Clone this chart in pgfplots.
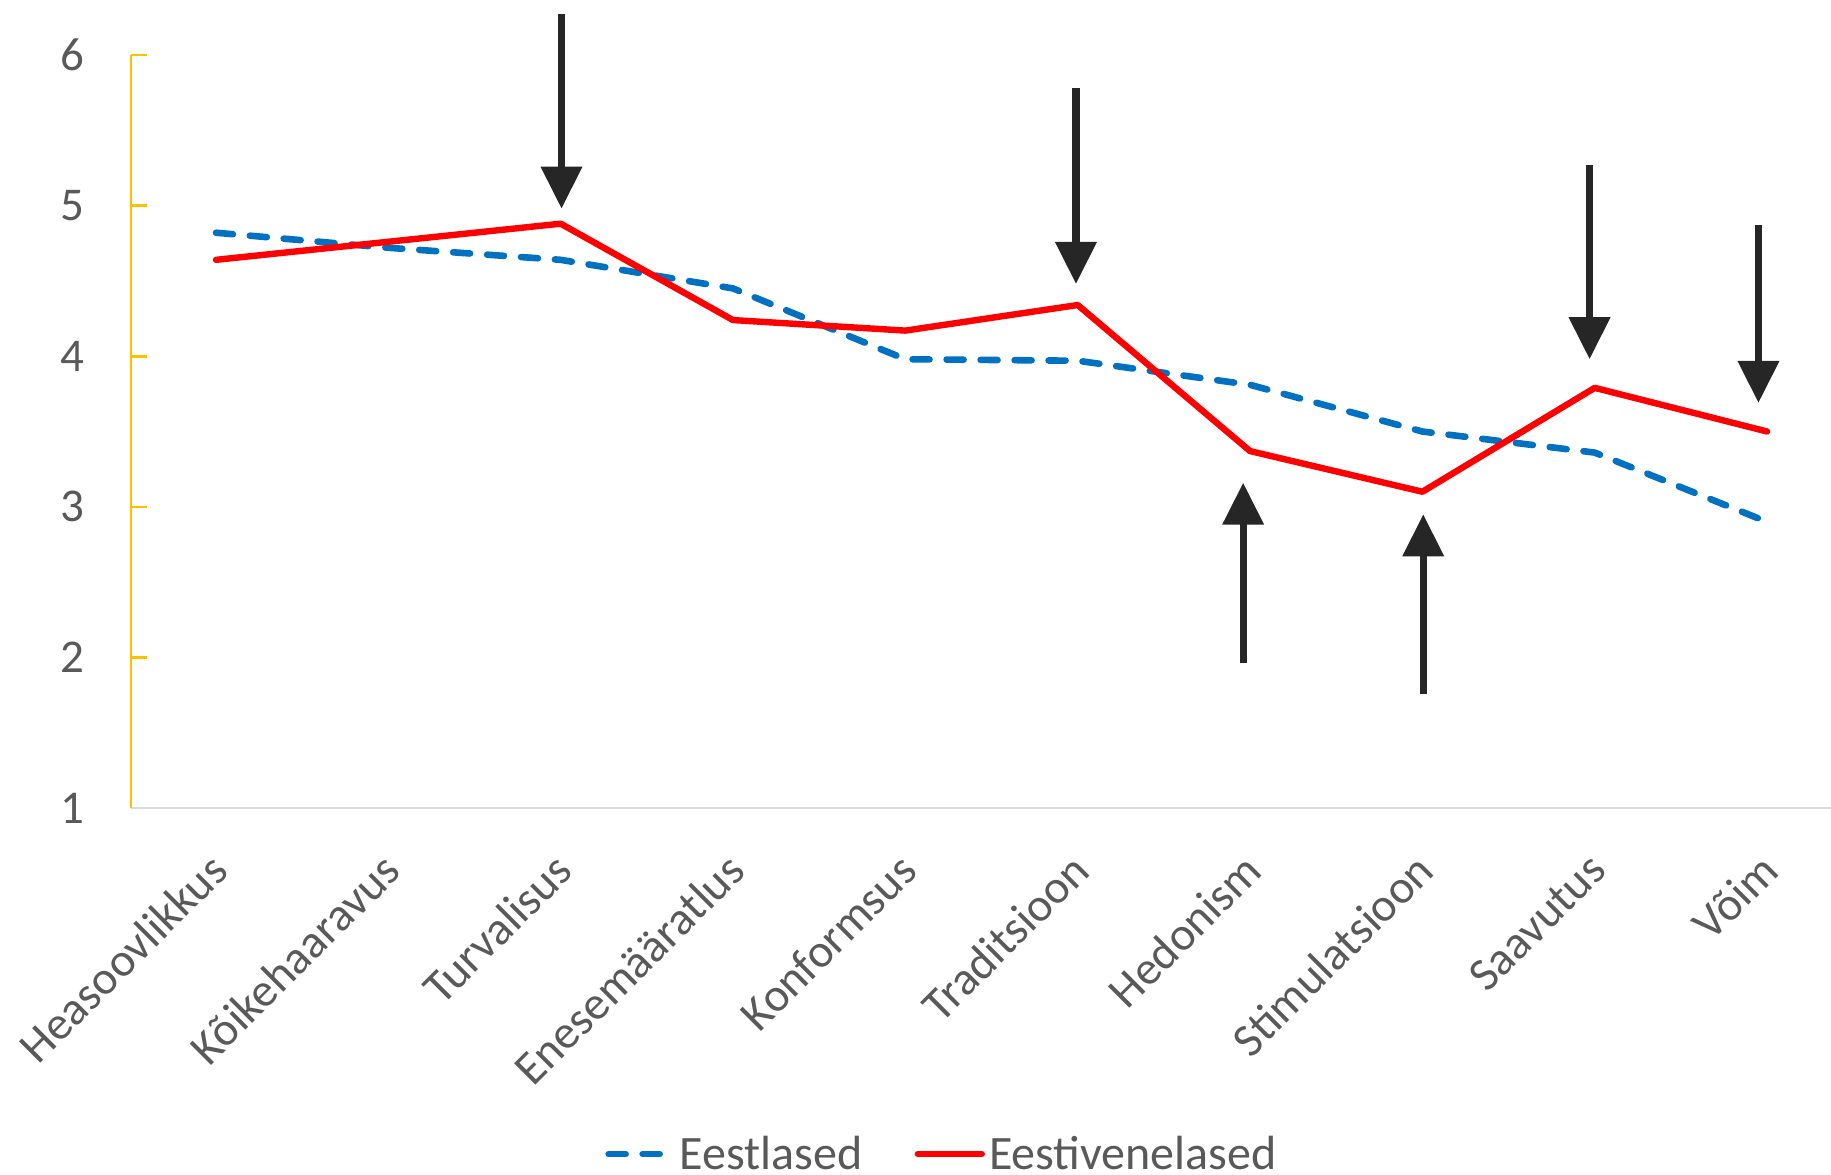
\documentclass[border=0pt]{standalone}
\usepackage{pgfplots}
\pgfplotsset{compat=1.18}
\usepackage{fontspec}
\setmainfont{Carlito}
\usetikzlibrary{arrows.meta}
\definecolor{ablue}{HTML}{0070C0}
\definecolor{ared}{HTML}{FF0000}
\definecolor{agold}{HTML}{FFC000}
\definecolor{agrid}{HTML}{D9D9D9}
\definecolor{atext}{HTML}{595959}
\definecolor{aarrow}{HTML}{262626}
\begin{document}
\begin{tikzpicture}
\begin{axis}[
  at={(0pt,0pt)}, anchor=south west,
  width=850pt, height=376.5pt, scale only axis,
  xmin=-0.493, xmax=9.371, ymin=1, ymax=6,
  axis lines*=left,
  x axis line style={draw=agrid, line width=1pt},
  y axis line style={draw=agold, line width=1.3pt},
  xtick={0,...,9},
  xticklabels={Heasoovlikkus, Kõikehaaravus, Turvalisus, Enesemääratlus, Konformsus, Traditsioon, Hedonism, Stimulatsioon, Saavutus, Võim},
  ytick={1,...,6},
  tick align=inside,
  major tick length=8pt,
  xtick style={draw=none},
  ytick style={draw=agold, line width=1.3pt},
  tick label style={font=\fontsize{23.5}{28}\selectfont, text=atext},
  /pgf/number format/assume math mode=true,
  yticklabel style={xshift=-23pt, anchor=east, inner sep=0pt},
  xticklabel style={xshift=1.5pt, yshift=-27pt, rotate=45, anchor=east, inner sep=0pt},
  clip=false,
  legend style={at={(0.4776,-0.4595)}, anchor=center, draw=none, fill=none,
    legend columns=2, font=\fontsize{24}{28}\selectfont, text=atext,
    /tikz/every even column/.append style={column sep=24pt}},
  legend image code/.code={\draw[#1] (0pt,0pt) -- (32pt,0pt);},
]
\addplot[ablue, line width=3.3pt, line cap=round, dash pattern=on 8.5pt off 8.5pt] coordinates {
 (0,4.82) (1,4.72) (2,4.64) (3,4.45) (4,3.98) (5,3.97) (6,3.81) (7,3.50) (8,3.36) (9,2.90)};
\addlegendentry{Eestlased}
\addplot[ared, line width=3.2pt, line cap=round, line join=round] coordinates {
 (0,4.64) (1,4.76) (2,4.88) (3,4.24) (4,4.17) (5,4.34) (6,3.37) (7,3.10) (8,3.79) (9,3.50)};
\addlegendentry{Eestivenelased}
\tikzset{myarrow/.style={draw=aarrow, fill=aarrow, line width=3.6pt, -{Triangle[width=20pt, length=21pt]}}}
\draw[myarrow] (axis cs:2.005,6.27) -- (axis cs:2.005,4.98);
\draw[myarrow] (axis cs:4.99,5.78) -- (axis cs:4.99,4.48);
\draw[myarrow] (axis cs:7.97,5.27) -- (axis cs:7.97,3.98);
\draw[myarrow] (axis cs:8.95,4.87) -- (axis cs:8.95,3.69);
\draw[myarrow] (axis cs:5.96,1.96) -- (axis cs:5.96,3.16);
\draw[myarrow] (axis cs:7.005,1.76) -- (axis cs:7.005,2.95);
\end{axis}
\pgfresetboundingbox
\path (-65.5pt,-183pt) rectangle (850pt,404pt);
\end{tikzpicture}
\end{document}
